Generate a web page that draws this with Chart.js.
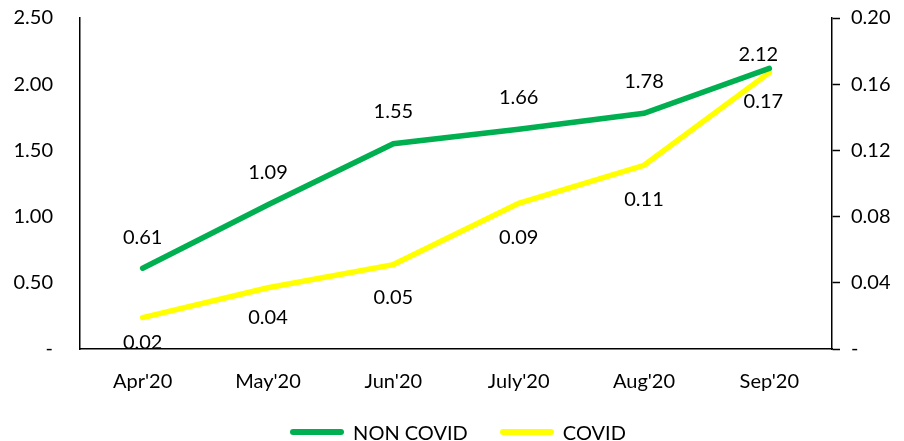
<!DOCTYPE html>
<html>
<head>
<meta charset="utf-8">
<script src="https://cdn.jsdelivr.net/npm/chart.js@4.4.0/dist/chart.umd.min.js"></script>
<style>
  html, body { margin: 0; padding: 0; background: #fff; }
  #wrap { width: 904px; height: 441px; position: relative; }
  #legend {
      position: absolute; left: 0; top: 421px; width: 904px; height: 22px;
      display: flex; justify-content: center; align-items: center;
      padding-left: 12px; box-sizing: border-box;
      font-family: Lato, "Open Sans", sans-serif; font-size: 20px; color: #000;
  }
  .item { display: flex; align-items: center; margin: 0 16px; }
  .swatch { width: 54px; height: 6px; border-radius: 3px; margin-right: 9px; }
</style>
</head>
<body>
<div id="wrap">
  <canvas id="lineChart"></canvas>
  <div id="legend"></div>
</div>
<script>
// chart data
const months = ["Apr'20", "May'20", "Jun'20", "July'20", "Aug'20", "Sep'20"];
const nonCovid = [0.61, 1.09, 1.55, 1.66, 1.78, 2.12];   // left axis
const covid = [0.019, 0.037, 0.051, 0.088, 0.111, 0.167]; // right axis
const leftTicks = [0, 0.5, 1, 1.5, 2, 2.5];
const rightTicks = [0, 0.04, 0.08, 0.12, 0.16, 0.2];

const FONT = 'Lato, "Open Sans", sans-serif';

//draw value labels above / below each point
const valueLabels = {
    id: 'valueLabels',
    afterDatasetsDraw(chart) {
        const ctx = chart.ctx;
        ctx.save();
        ctx.font = '20px ' + FONT;
        ctx.fillStyle = '#000';
        ctx.textAlign = 'center';
        ctx.textBaseline = 'middle';
        chart.data.datasets.forEach(function (ds, di) {
            const meta = chart.getDatasetMeta(di);
            meta.data.forEach(function (pt, i) {
                let dy = ds.labelOffset[i];
                let dx = ds.labelShift[i];
                ctx.fillText(ds.data[i].toFixed(2), pt.x + dx, pt.y + dy);
            });
        });
        ctx.restore();
    }
};

//tick label: zero shown as dash
function fmt(v) {
    return v === 0 ? '-' : v.toFixed(2);
}

//no extra room for the end labels
function noPad(s) {
    s.paddingTop = 0;
    s.paddingBottom = 0;
}

const ctx = document.getElementById('lineChart').getContext('2d');
const chart = new Chart(ctx, {
    type: 'line',
    data: {
        labels: months,
        datasets: [{
            label: 'NON COVID',
            data: nonCovid,
            yAxisID: 'y',
            borderColor: '#00B050',
            backgroundColor: '#00B050',
            borderWidth: 5.5,
            borderCapStyle: 'round',
            pointRadius: 0,
            tension: 0,
            labelOffset: [-31, -32, -32, -32, -32, -14],
            labelShift: [0, 0, 0, 0, 0, -11]
        }, {
            label: 'COVID',
            data: covid,
            yAxisID: 'y1',
            borderColor: '#FFFF00',
            backgroundColor: '#FFFF00',
            borderWidth: 5.5,
            borderCapStyle: 'round',
            pointRadius: 0,
            tension: 0,
            labelOffset: [25, 30, 33, 34, 34, 29],
            labelShift: [0, 0, 0, 0, 0, -6]
        }]
    },
    options: {
        responsive: true,
        maintainAspectRatio: false,
        animation: false,
        layout: { padding: { top: 18, left: 0, right: 0, bottom: 42 } },
        plugins: {
            tooltip: { enabled: false },
            legend: { display: false }
        },
        scales: {
            x: {
                offset: true,
                afterFit: function (s) { s.height = 50; s.paddingLeft = 0; s.paddingRight = 0; },
                grid: { display: false, drawTicks: false },
                border: { display: true, color: '#000', width: 1.5 },
                ticks: { font: { family: FONT, size: 20 }, color: '#000', padding: 21 }
            },
            y: {
                position: 'left',
                min: 0,
                max: 2.5,
                afterBuildTicks: function (s) { s.ticks = leftTicks.map(v => ({ value: v })); },
                afterFit: function (s) { s.width = 80; noPad(s); },
                grid: { drawOnChartArea: false, drawTicks: false },
                border: { display: true, color: '#000', width: 1.5 },
                ticks: { font: { family: FONT, size: 20 }, color: '#000', padding: 27, callback: fmt }
            },
            y1: {
                position: 'right',
                min: 0,
                max: 0.2,
                afterBuildTicks: function (s) { s.ticks = rightTicks.map(v => ({ value: v })); },
                afterFit: function (s) { s.width = 72; noPad(s); },
                grid: { drawOnChartArea: false, drawTicks: true, tickLength: 8, color: '#000', tickColor: '#000', tickWidth: 1.5 },
                border: { display: true, color: '#000', width: 1.5 },
                ticks: { font: { family: FONT, size: 20 }, color: '#000', padding: 11, callback: fmt }
            }
        }
    },
    plugins: [valueLabels]
});

//build legend
var html = "";
chart.data.datasets.forEach(function (ds) {
    html += '<div class="item"><span class="swatch" style="background:' + ds.borderColor + '"></span>' + ds.label + '</div>';
});
document.getElementById("legend").innerHTML = html;
</script>
</body>
</html>
